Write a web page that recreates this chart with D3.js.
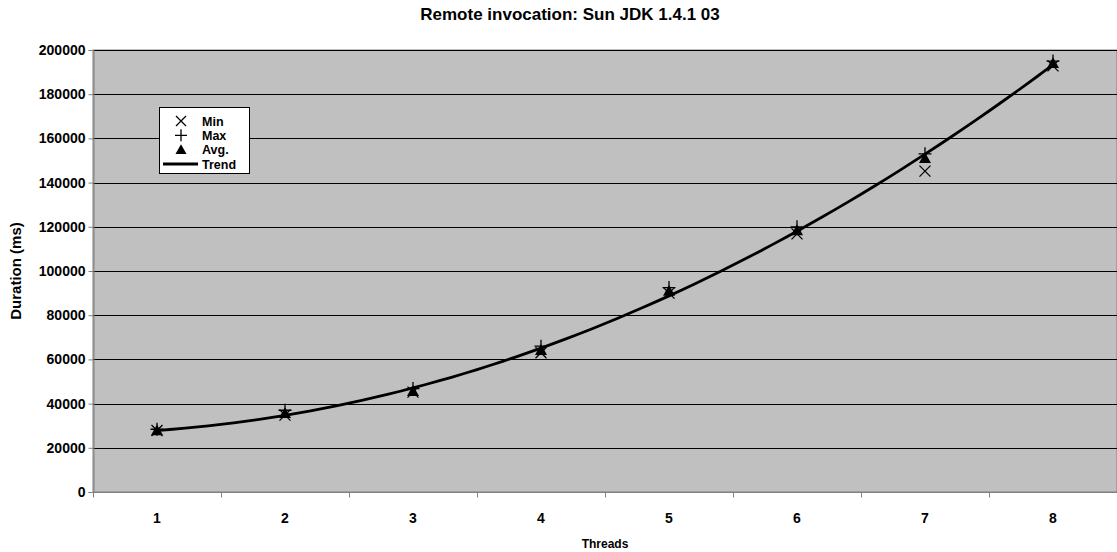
<!DOCTYPE html>
<html>
<head>
<meta charset="utf-8">
<script src="https://cdn.jsdelivr.net/npm/d3@7"></script>
<style>
  body { margin: 0; background: #fff; }
  svg text { font-family: "Liberation Sans", Arial, sans-serif; font-weight: bold; fill: #000; }
</style>
</head>
<body>
<svg id="chart" width="1117" height="552"></svg>
<script>
// values
var threads = [1, 2, 3, 4, 5, 6, 7, 8]
var minVals = [27800, 34800, 45200, 63000, 90000, 116800, 145200, 192800]
var maxVals = [28400, 37000, 46800, 66000, 92500, 120000, 153000, 195000]
var avgVals = [27800, 35600, 45600, 64200, 91000, 118400, 151000, 194000]
var yTicks = [0, 20000, 40000, 60000, 80000, 100000, 120000, 140000, 160000, 180000, 200000]
var legendItems = ['Min', 'Max', 'Avg.', 'Trend']

var svg = d3.select('#chart')
var conf = { left: 93, right: 1117, top: 50, bottom: 492 }

var x = d3.scaleBand().domain(threads).range([conf.left, conf.right])
var y = d3.scaleLinear().domain([0, 200000]).range([conf.bottom, conf.top])
var cx = d => x(d) + x.bandwidth() / 2

// plot area
svg.append('rect')
    .attr('x', conf.left).attr('y', conf.top)
    .attr('width', conf.right - conf.left).attr('height', conf.bottom - conf.top)
    .attr('fill', '#c0c0c0').attr('stroke', '#808080').attr('stroke-width', 1)

// gridlines
svg.append('g').selectAll('line').data(yTicks.filter(d => d > 0)).join('line')
    .attr('x1', conf.left).attr('x2', conf.right)
    .attr('y1', d => Math.round(y(d)) + 0.5).attr('y2', d => Math.round(y(d)) + 0.5)
    .attr('stroke', '#000').attr('stroke-width', 1)

// y axis
var yAxis = svg.append('g')
    .attr('transform', 'translate(' + (conf.left + 0.5) + ',0)')
    .call(d3.axisLeft(y).tickValues(yTicks).tickSize(5).tickPadding(3).tickFormat(d3.format('d')))
yAxis.select('.domain').attr('stroke', '#808080')
yAxis.selectAll('.tick line').attr('stroke', '#808080')
yAxis.selectAll('text').style('font-size', '14px')

// x axis (ticks between categories)
var xAxis = svg.append('g').attr('transform', 'translate(0,' + (conf.bottom + 0.5) + ')')
xAxis.append('line').attr('x1', conf.left).attr('x2', conf.right).attr('stroke', '#808080')
var bounds = threads.map(d => x(d)).concat([conf.right])
xAxis.selectAll('.tk').data(bounds).join('line').attr('class', 'tk')
    .attr('x1', d => Math.round(d) + 0.5).attr('x2', d => Math.round(d) + 0.5)
    .attr('y1', 0).attr('y2', 5).attr('stroke', '#808080')
xAxis.selectAll('text').data(threads).join('text')
    .attr('x', d => cx(d)).attr('y', 30)
    .attr('text-anchor', 'middle').style('font-size', '14px')
    .text(d => d)

// trend: 2nd order polynomial least squares on averages (as the spreadsheet did)
function polyfit2(xs, ys) {
    var s = [0, 0, 0, 0, 0], t = [0, 0, 0]
    xs.forEach((xv, i) => {
        for (var k = 0; k < 5; k++) s[k] += Math.pow(xv, k)
        for (var k = 0; k < 3; k++) t[k] += ys[i] * Math.pow(xv, k)
    })
    var M = [[s[0], s[1], s[2], t[0]], [s[1], s[2], s[3], t[1]], [s[2], s[3], s[4], t[2]]]
    for (var i = 0; i < 3; i++) {
        for (var j = i + 1; j < 3; j++) {
            var f = M[j][i] / M[i][i]
            for (var k = i; k < 4; k++) M[j][k] -= f * M[i][k]
        }
    }
    var c = [0, 0, 0]
    for (var i = 2; i >= 0; i--) {
        var v = M[i][3]
        for (var k = i + 1; k < 3; k++) v -= M[i][k] * c[k]
        c[i] = v / M[i][i]
    }
    return c
}
var coef = polyfit2(threads, avgVals)
var trendPts = []
for (var t = 1; t <= 8.0001; t += 0.1) trendPts.push([t, coef[0] + coef[1] * t + coef[2] * t * t])
var tx = d3.scaleLinear().domain([1, 8]).range([cx(1), cx(8)])
svg.append('path')
    .attr('d', d3.line().x(d => tx(d[0])).y(d => y(d[1])).curve(d3.curveBasis)(trendPts))
    .attr('fill', 'none').attr('stroke', '#000').attr('stroke-width', 2.8)

// markers
function drawX(g, px, py, r) {
    g.append('path').attr('d', 'M' + (px - r) + ',' + (py - r) + 'L' + (px + r) + ',' + (py + r) +
        'M' + (px - r) + ',' + (py + r) + 'L' + (px + r) + ',' + (py - r))
        .attr('stroke', '#000').attr('stroke-width', 1.3).attr('fill', 'none')
}
function drawPlus(g, px, py, r) {
    g.append('path').attr('d', 'M' + (px - r) + ',' + py + 'L' + (px + r) + ',' + py +
        'M' + px + ',' + (py - r) + 'L' + px + ',' + (py + r))
        .attr('stroke', '#000').attr('stroke-width', 1.3).attr('fill', 'none')
}
function drawTri(g, px, py, r) {
    g.append('path').attr('d', 'M' + px + ',' + (py - r) + 'L' + (px + r) + ',' + (py + r * 0.8) +
        'L' + (px - r) + ',' + (py + r * 0.8) + 'Z').attr('fill', '#000')
}
var mk = svg.append('g')
threads.forEach((d, i) => {
    drawX(mk, cx(d), y(minVals[i]), 5.5)
    drawPlus(mk, cx(d), y(maxVals[i]), 6.5)
    drawTri(mk, cx(d), y(avgVals[i]), 6)
})

// legend
var lg = svg.append('g')
lg.append('rect').attr('x', 159.5).attr('y', 107.5).attr('width', 90).attr('height', 66)
    .attr('fill', '#fff').attr('stroke', '#000').attr('stroke-width', 1)
var rowY = d3.scalePoint().domain(legendItems).range([121, 164])
legendItems.forEach((name, i) => {
    var ry = rowY(name)
    if (i == 0) drawX(lg, 181, ry, 5)
    if (i == 1) drawPlus(lg, 181, ry, 6)
    if (i == 2) drawTri(lg, 181, ry, 5.5)
    if (i == 3) lg.append('line').attr('x1', 163).attr('x2', 198).attr('y1', ry).attr('y2', ry)
        .attr('stroke', '#000').attr('stroke-width', 2.8)
    lg.append('text').attr('x', 202).attr('y', ry + 4.5).style('font-size', '12.5px').text(name)
})

// titles
svg.append('text').attr('x', 570).attr('y', 20).attr('text-anchor', 'middle')
    .style('font-size', '17px').text('Remote invocation: Sun JDK 1.4.1 03')
svg.append('text').attr('x', (conf.left + conf.right) / 2).attr('y', 548).attr('text-anchor', 'middle')
    .style('font-size', '12px').text('Threads')
svg.append('text').attr('transform', 'translate(21,' + ((conf.top + conf.bottom) / 2) + ') rotate(-90)')
    .attr('text-anchor', 'middle').style('font-size', '15px').text('Duration (ms)')
</script>
</body>
</html>
